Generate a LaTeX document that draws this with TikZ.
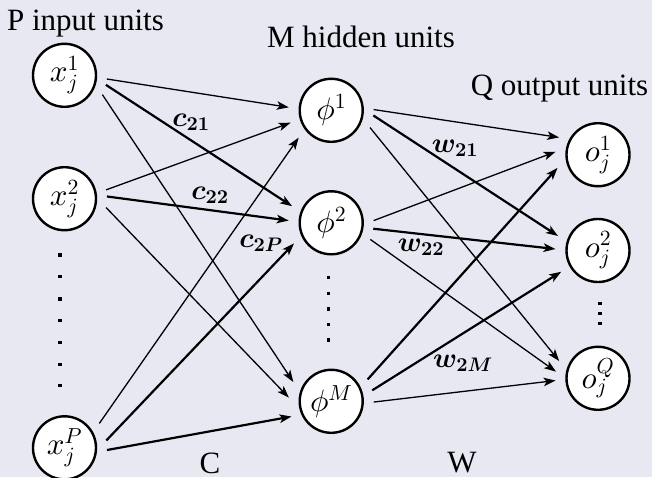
\RequirePackage{fix-cm}
\documentclass[tikz,border=0pt]{standalone}
\usepackage[no-math]{fontspec}
\setmainfont{Liberation Serif}
\usepackage{bm}
\usetikzlibrary{arrows.meta}
\DeclareFontShape{OML}{cmm}{m}{it}{<->cmmi10}{}
\DeclareFontShape{OML}{cmm}{b}{it}{<->cmmib10}{}
\DeclareFontShape{OT1}{cmr}{m}{n}{<->cmr10}{}
\DeclareFontShape{OT1}{cmr}{bx}{n}{<->cmbx10}{}
\definecolor{bgc}{RGB}{232,232,243}
\begin{document}
\begin{tikzpicture}[x=1pt,y=-1pt,
  unit/.style={circle, draw, line width=2.4pt, fill=white, minimum size=63pt, inner sep=0pt, outer sep=11pt, font=\fontsize{31}{36}\selectfont},
  conn/.style={line width=1.3pt, -{Stealth[length=12pt,width=8.5pt,inset=3pt]}},
  heavy/.style={conn, line width=2.2pt},
  wlabel/.style={font=\fontsize{28}{34}\selectfont, inner sep=0pt},
  title/.style={font=\fontsize{31}{36}\selectfont, anchor=base, inner sep=0pt},
  dotmark/.style={fill=black}
]
\fill[bgc] (0,0) rectangle (652,477);
\useasboundingbox (0,0) rectangle (652,477);

% input units
\node[unit] (x1) at (64.5,75.3) {$x_j^1$};
\node[unit] (x2) at (64.5,198.7) {$x_j^2$};
\node[unit] (xP) at (64.5,447.8) {$x_j^P$};
% hidden units
\node[unit] (phi1) at (331.2,110.3) {$\phi^1$};
\node[unit] (phi2) at (331.2,222.8) {$\phi^2$};
\node[unit] (phiM) at (331.2,401.3) {$\phi^M$};
% output units
\node[unit] (o1) at (598,154.7) {$o_j^1$};
\node[unit] (o2) at (598,250.5) {$o_j^2$};
\node[unit] (oQ) at (598,378.3) {$o_j^Q$};

% input -> hidden
\draw[conn]  (x1.-5)  -- (phi1.176);
\draw[heavy] (x1.-13) -- (phi2.157);
\draw[conn]  (x1.-27) -- (phiM.153);
\draw[conn]  (x2.12)  -- (phi1.197);
\draw[heavy] (x2.3)   -- (phi2.177);
\draw[conn]  (x2.-12) -- (phiM.175);
\draw[conn]  (xP.35)  -- (phi1.220);
\draw[heavy] (xP.10)  -- (phi2.209);
\draw[heavy] (xP.-3)  -- (phiM.201);

% hidden -> output
\draw[conn]  (phi1.1)   -- (o1.156);
\draw[heavy] (phi1.-7)  -- (o2.160);
\draw[conn]  (phi1.-24) -- (oQ.156);
\draw[conn]  (phi2.3)   -- (o1.176);
\draw[heavy] (phi2.-8)  -- (o2.178);
\draw[conn]  (phi2.-23) -- (oQ.171);
\draw[heavy] (phiM.31)  -- (o1.198);
\draw[heavy] (phiM.15)  -- (o2.210);
\draw[conn]  (phiM.-1)  -- (oQ.183);

% weight labels
\node[wlabel] (lc21) at (191,122) {$\bm{c_{21}}$};
\node[wlabel] (lc22) at (210,195) {$\bm{c_{22}}$};
\node[wlabel] (lc2P) at (261,243) {$\bm{c_{2P}}$};
\node[wlabel] (lw21) at (455,148) {$\bm{w_{21}}$};
\node[wlabel] (lw22) at (421,247) {$\bm{w_{22}}$};
\node[wlabel] (lw2M) at (463,363) {$\bm{w_{2M}}$};

% titles
\node[title] (tP) at (85.5,30) {P input units};
\node[title] (tM) at (361,47) {M hidden units};
\node[title] (tQ) at (559.5,95) {Q output units};
\node[title] (tC) at (210,473) {C};
\node[title] (tW) at (462,472) {W};

% ellipsis dots
\foreach \yy in {255,276.7,299,320.7,342.3,364.3,385.7}
  \fill[dotmark] (58.4,\yy-1.6) rectangle +(3.2,3.2);
\foreach \yy in {277.7,293.3,309,324.3,340}
  \fill[dotmark] (326.7,\yy-1.6) rectangle +(3.2,3.2);
\foreach \yy in {303.3,313.3,323.3}
  \fill[dotmark] (598.4,\yy-1.6) rectangle +(3.2,3.2);
\end{tikzpicture}
\end{document}
